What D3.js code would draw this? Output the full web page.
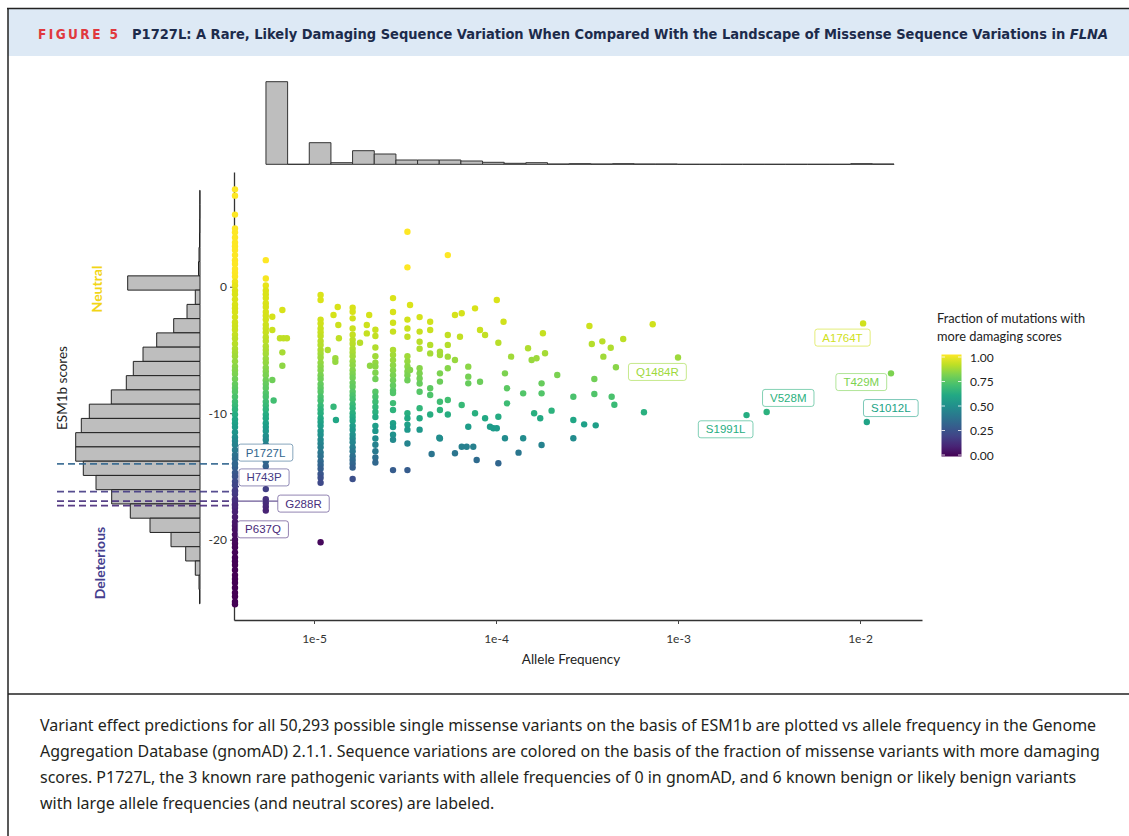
<!DOCTYPE html>
<html>
<head>
<meta charset="utf-8">
<script src="https://cdn.jsdelivr.net/npm/d3@7"></script>
<style>
  body { margin: 0; background: #fff; }
  svg { display: block; }
</style>
</head>
<body>
<svg id="chart" width="1129" height="836"></svg>
<script>
// ---------------- data ----------------
const alleleNumber = 184000;           // approx. gnomAD allele number, gives the AC columns

// ESM1b scores of variants absent from gnomAD (AF = 0, drawn on the left edge)
const zeroAfScores = [7.7, 7.2, 5.7, 4.6, 4.3, 3.9, 3.5, 3.2, 2.9, 2.5, 2.1, 1.8, 1.4, 1.1, 0.8, 0.4, 0.1,
  -0.3, -0.6, -1.0, -1.4, -1.7, -2.0, -2.4, -2.8, -3.1, -3.4, -3.8, -4.1, -4.5, -4.9, -5.2, -5.5, -5.9,
  -6.3, -6.6, -6.9, -7.3, -7.7, -8.0, -8.3, -8.7, -9.1, -9.4, -9.7, -10.1, -10.5, -10.8, -11.1, -11.5,
  -11.9, -12.2, -12.5, -12.9, -13.3, -13.6, -14.0, -14.3, -14.7, -15.0, -15.4, -15.7, -16.1, -16.4,
  -16.8, -17.2, -17.5, -17.8, -18.2, -18.6, -18.9, -19.2, -19.6, -20.0, -20.3, -20.6, -21.0, -21.4,
  -21.7, -22.0, -22.4, -22.8, -23.1, -23.4, -23.8, -24.2, -24.5, -24.9, -25.1];

// scores in the allele-count columns (AC / alleleNumber)
const ac1Scores = [2.1, 0.65, 0.1, -0.3, -0.6, -0.9, -1.3, -1.6, -2.0, -2.3, -2.6, -3.0, -3.3, -3.6, -4.0,
  -4.3, -4.7, -5.0, -5.3, -5.7, -6.0, -6.4, -6.7, -7.0, -7.4, -7.7, -8.0, -8.4, -8.7, -9.1, -9.4, -9.7,
  -10.1, -10.4, -10.8, -11.1, -11.4, -11.8, -12.1, -12.5, -12.8, -13.1, -13.5, -13.8, -14.2, -16.0,
  -16.8, -17.1, -17.4, -17.7];
const ac2Scores = [-0.66, -1.05, -2.6, -2.9, -3.3, -3.6, -3.9, -4.3, -4.6, -5.0, -5.3, -5.6, -6.0, -6.3,
  -6.6, -7.0, -7.3, -7.7, -8.0, -8.3, -8.7, -9.0, -9.4, -9.7, -10.0, -10.4, -10.7, -11.0, -11.4, -11.7,
  -12.1, -12.4, -12.7, -13.1, -13.4, -13.8, -14.1, -14.4, -14.8, -15.1, -15.5, -20.2];
const ac3Scores = [-1.66, -1.98, -2.5, -3.3, -3.8, -4.2, -4.5, -4.9, -5.2, -5.5, -5.9, -6.2, -6.6, -6.9,
  -7.2, -7.6, -7.9, -8.3, -8.6, -8.9, -9.3, -9.6, -10.0, -10.3, -10.6, -11.0, -11.3, -11.7, -12.0,
  -12.3, -12.7, -13.0, -13.4, -13.7, -14.0, -14.3, -15.2];
const ac4Scores = [-3.4, -3.9, -4.8, -5.5, -6.0, -6.3, -6.8, -7.3, -8.3, -8.7, -9.1, -9.5, -9.9, -10.3,
  -11.0, -11.4, -12.0, -12.5, -13.0, -13.5, -13.9];
const ac5Scores = [-0.9, -2.0, -2.85, -3.55, -5.0, -5.4, -5.8, -6.2, -6.6, -7.0, -7.4, -7.8, -8.2, -8.4,
  -9.2, -9.75, -10.8, -11.1, -11.7, -12.1, -14.5];
const ac6Scores = [4.35, 1.53, -2.6, -3.3, -3.95, -5.5, -5.9, -6.3, -6.7, -7.0, -7.4, -10.0, -10.4,
  -10.9, -11.3, -12.4, -14.5];
const ac7Scores = [-2.4, -3.55, -4.35, -4.9, -6.45, -6.85, -7.25, -7.65, -8.3, -9.6, -10.4, -11.3];
const ac8Scores = [-2.77, -3.42, -4.6, -5.27, -8.03, -8.56, -10.1];
const ac10Scores = [2.5, -3.82, -4.6, -5.53, -6.45, -8.96, -10.1];

// remaining variants: [allele frequency, ESM1b score]
const otherPoints = [
  [5.9e-6, -2.37], [5.9e-6, -3.42], [5.9e-6, -7.37], [6.0e-6, -9.0], [6.7e-6, -1.84], [6.5e-6, -4.08],
  [6.8e-6, -4.08], [7.1e-6, -4.08], [6.7e-6, -5.19], [6.7e-6, -6.25],
  [1.19e-5, -5.0], [1.28e-5, -2.24], [1.35e-5, -1.6], [1.36e-5, -3.03], [1.37e-5, -4.08], [1.31e-5, -5.66],
  [1.31e-5, -5.93], [1.28e-5, -9.49], [1.32e-5, -10.54],
  [1.79e-5, -4.43], [1.95e-5, -3.69], [2.01e-5, -2.24], [1.95e-5, -3.03], [2.03e-5, -6.25],
  [3.37e-5, -1.45], [3.37e-5, -6.58],
  [4.92e-5, -5.14], [4.92e-5, -5.4], [4.92e-5, -6.85], [4.92e-5, -7.5], [4.92e-5, -9.1], [4.92e-5, -9.75],
  [4.92e-5, -12.0],
  [5.95e-5, -2.24], [6.48e-5, -2.1], [6.34e-5, -3.95], [5.95e-5, -5.79], [7.04e-5, -6.32], [7.04e-5, -7.11],
  [7.04e-5, -7.64], [6.48e-5, -9.35], [7.67e-5, -1.71], [8.17e-5, -3.42], [8.71e-5, -3.82], [8.17e-5, -7.51],
  [7.67e-5, -10.0], [7.04e-5, -11.07], [8.71e-5, -10.4], [9.27e-5, -11.07], [9.67e-5, -11.19],
  [1.01e-4, -11.19], [1.03e-4, -10.28], [1.03e-4, -4.43], [1.01e-4, -1.05], [1.10e-4, -2.77],
  [1.12e-4, -6.85], [1.15e-4, -8.03], [1.15e-4, -9.22], [1.12e-4, -11.98], [1.21e-4, -5.53],
  [1.41e-4, -8.43], [1.41e-4, -11.98], [1.50e-4, -4.87], [1.57e-4, -5.79], [1.67e-4, -5.66],
  [1.78e-4, -7.64], [1.78e-4, -8.43], [1.86e-4, -5.26], [1.81e-4, -3.68], [1.62e-4, -10.0],
  [1.75e-4, -10.4], [2.02e-4, -9.8], [2.17e-4, -6.98], [2.66e-4, -8.7], [2.66e-4, -10.54],
  [2.66e-4, -11.98], [1.78e-4, -12.51], [1.33e-4, -13.12], [1.03e-4, -13.96], [7.83e-5, -13.7],
  [7.5e-5, -12.65], [6.9e-5, -12.65], [6.48e-5, -12.65], [5.95e-5, -13.17], [4.43e-5, -13.23],
  [4.88e-5, -11.94],
  [3.26e-4, -3.11], [7.26e-4, -2.97], [3.36e-4, -4.53], [3.84e-4, -4.32], [4.27e-4, -4.82],
  [5.0e-4, -4.13], [3.89e-4, -5.53], [4.56e-4, -6.37], [3.47e-4, -7.3], [3.47e-4, -8.48],
  [4.32e-4, -8.7], [4.47e-4, -9.33], [6.5e-4, -9.93], [3.05e-4, -10.88], [3.53e-4, -10.96]
];

// labeled variants
const labeledNames = ["A1764T", "T429M", "S1012L", "V528M", "S1991L", "Q1484R", "P1727L", "H743P", "G288R", "P637Q"];
const labeledAf = [1.04e-2, 1.48e-2, 1.09e-2, 3.07e-3, 2.38e-3, 1.0e-3, 0, 0, 0, 0];
const labeledScores = [-2.9, -6.85, -10.7, -9.9, -10.15, -5.6, -14.0, -16.2, -16.95, -17.3];

// marginal histograms
const afBinStartLog = -5.264, afBinWidthLog = 0.119;     // log10 allele frequency bins
const afHistCounts = [826, 0, 216, 16, 136, 103, 43, 43, 43, 33, 20, 10, 16, 3, 6,
  3, 6, 3, 3, 0, 0, 0, 0, 0, 0, 0, 0, 6, 3];
const scoreBinTop = 7.62, scoreBinWidth = 1.127;          // ESM1b score bins, top down
const scoreHistCounts = [2, 2, 3, 5, 10, 15, 723, 47, 130, 263, 433, 570, 667, 737, 887, 1107,
  1187, 1243, 1243, 1167, 1040, 883, 697, 500, 290, 143, 47, 10, 5];

// ticks
const xTicks = [1e-5, 1e-4, 1e-3, 1e-2];
const xTickLabels = ["1e-5", "1e-4", "1e-3", "1e-2"];
const yTicks = [0, -10, -20];
const legendTicks = [0, 0.25, 0.5, 0.75, 1];

const captionLines = [
  "Variant effect predictions for all 50,293 possible single missense variants on the basis of ESM1b are plotted vs allele frequency in the Genome",
  "Aggregation Database (gnomAD) 2.1.1. Sequence variations are colored on the basis of the fraction of missense variants with more damaging",
  "scores. P1727L, the 3 known rare pathogenic variants with allele frequencies of 0 in gnomAD, and 6 known benign or likely benign variants",
  "with large allele frequencies (and neutral scores) are labeled."
];

// ---------------- layout ----------------
// label box offsets from their points (ggrepel result), px
const labelOffsets = {
  A1764T: [-20.6, 14.2], Q1484R: [-20.6, 14.4], V528M: [21.6, -14], T429M: [-29.7, 8.7],
  S1012L: [24, -14], S1991L: [-20.9, 14.2], P1727L: [30.5, -11.2], H743P: [29, -14.2],
  G288R: [68.5, 2.5], P637Q: [28, 23.8]
};
const withSegment = ["H743P", "G288R"];
const plotFont = "Lato, 'Open Sans', sans-serif";

const svg = d3.select("#chart");
const W = 1129;

// ---------------- frame and header ----------------
svg.append("rect").attr("x", 8).attr("y", 9).attr("width", W - 8).attr("height", 47).attr("fill", "#dde9f5");
svg.append("line").attr("x1", 7).attr("x2", W).attr("y1", 8.5).attr("y2", 8.5).attr("stroke", "#222").attr("stroke-width", 1.5);
svg.append("line").attr("x1", 8).attr("x2", 8).attr("y1", 8).attr("y2", 836).attr("stroke", "#222").attr("stroke-width", 1.5);
svg.append("line").attr("x1", 8).attr("x2", W).attr("y1", 694).attr("y2", 694).attr("stroke", "#222").attr("stroke-width", 1.5);

const headFont = "'DejaVu Sans Condensed', 'DejaVu Sans', sans-serif";
svg.append("text")
  .attr("x", 38).attr("y", 38.5)
  .attr("font-family", headFont).attr("font-stretch", "condensed").attr("font-weight", "bold")
  .attr("font-size", 13.5).attr("fill", "#e0383d")
  .attr("textLength", 80).attr("lengthAdjust", "spacing")
  .text("FIGURE 5");
const title = svg.append("text")
  .attr("x", 132).attr("y", 38.5)
  .attr("font-family", headFont).attr("font-stretch", "condensed").attr("font-weight", "bold")
  .attr("font-size", 14).attr("fill", "#1c2b4b")
  .attr("textLength", 976).attr("lengthAdjust", "spacingAndGlyphs");
title.append("tspan").text("P1727L: A Rare, Likely Damaging Sequence Variation When Compared With the Landscape of Missense Sequence Variations in ");
title.append("tspan").attr("font-style", "italic").text("FLNA");

// ---------------- scales ----------------
const x = d3.scaleLog().domain([3.634e-6, 0.02191]).range([234, 922]);
const y = d3.scaleLinear().domain([-26.35, 9.07]).range([620, 172]);

const scoreTotal = d3.sum(scoreHistCounts);
// fraction of all variants with a lower (more damaging) score, from the histogram
function fractionBelow(s) {
  let acc = 0;
  scoreHistCounts.forEach((c, i) => {
    const hi = scoreBinTop - i * scoreBinWidth, lo = hi - scoreBinWidth;
    if (s >= hi) acc += c;
    else if (s > lo) acc += c * (s - lo) / scoreBinWidth;
  });
  return Math.min(1, acc / scoreTotal);
}
const colorOf = s => d3.interpolateViridis(fractionBelow(s));
const xPos = af => af > 0 ? x(af) : x.range()[0] + 1;

// ---------------- top marginal histogram ----------------
const histTop = d3.scaleLinear().domain([0, d3.max(afHistCounts)]).range([164.3, 81.7]);
svg.append("g").selectAll("path").data(afHistCounts).join("path")
  .attr("d", (c, i) => {
    const x0 = x(Math.pow(10, afBinStartLog + i * afBinWidthLog));
    const x1 = x(Math.pow(10, afBinStartLog + (i + 1) * afBinWidthLog));
    return `M${x0},${histTop(0)}H${x1}V${histTop(c)}H${x0}Z`;
  })
  .attr("fill", "#bebebe").attr("stroke", "#333").attr("stroke-width", 1);

// ---------------- left marginal histogram ----------------
const histLeft = d3.scaleLinear().domain([0, d3.max(scoreHistCounts)]).range([200, 75.7]);
svg.append("g").selectAll("path").data(scoreHistCounts).join("path")
  .attr("d", (c, i) => {
    const y0 = y(scoreBinTop - i * scoreBinWidth);
    const y1 = y(scoreBinTop - (i + 1) * scoreBinWidth);
    return `M${histLeft(0)},${y0}V${y1}H${histLeft(c)}V${y0}Z`;
  })
  .attr("fill", "#bebebe").attr("stroke", "#222").attr("stroke-width", 1);

// dashed reference lines for the AF = 0 labeled variants
const labeled = labeledNames.map((n, i) => ({ name: n, af: labeledAf[i], score: labeledScores[i] }));
svg.append("g").selectAll("line").data(labeled.filter(d => d.af === 0)).join("line")
  .attr("x1", 57).attr("x2", x.range()[0])
  .attr("y1", d => y(d.score)).attr("y2", d => y(d.score))
  .attr("stroke", d => colorOf(d.score)).attr("stroke-width", 1.8)
  .attr("stroke-dasharray", "7,4").attr("opacity", 0.9);

// ---------------- axes ----------------
const xAxis = svg.append("g").attr("transform", "translate(0,620)")
  .call(d3.axisBottom(x).tickValues(xTicks).tickFormat((d, i) => xTickLabels[i]).tickSize(4).tickSizeOuter(0).tickPadding(10));
const yAxis = svg.append("g").attr("transform", "translate(234,0)")
  .call(d3.axisLeft(y).tickValues(yTicks).tickFormat(d => String(d)).tickSize(4).tickSizeOuter(0).tickPadding(3));
[xAxis, yAxis].forEach(g => {
  g.select(".domain").attr("stroke", "#333").attr("stroke-width", 1.3);
  g.selectAll(".tick line").attr("stroke", "#444");
  g.selectAll(".tick text").attr("font-family", plotFont).attr("font-size", 12).attr("fill", "#333");
});

svg.append("text").attr("x", 571).attr("y", 664).attr("text-anchor", "middle")
  .attr("font-family", plotFont).attr("font-size", 13.5).attr("fill", "#222").text("Allele Frequency");
svg.append("text").attr("transform", "translate(67,388) rotate(-90)").attr("text-anchor", "middle")
  .attr("font-family", plotFont).attr("font-size", 13.5).attr("fill", "#222").text("ESM1b scores");
svg.append("text").attr("transform", "translate(102,289) rotate(-90)").attr("text-anchor", "middle")
  .attr("font-family", plotFont).attr("font-weight", "bold").attr("font-size", 14).attr("fill", "#f2d516").text("Neutral");
svg.append("text").attr("transform", "translate(105,563) rotate(-90)").attr("text-anchor", "middle")
  .attr("font-family", plotFont).attr("font-weight", "bold").attr("font-size", 14).attr("fill", "#463f8f").text("Deleterious");

// ---------------- points ----------------
const columns = [[1, ac1Scores], [2, ac2Scores], [3, ac3Scores], [4, ac4Scores], [5, ac5Scores],
  [6, ac6Scores], [7, ac7Scores], [8, ac8Scores], [10, ac10Scores]];
let points = zeroAfScores.map(s => ({ af: 0, score: s }));
columns.forEach(([ac, scores]) => scores.forEach(s => points.push({ af: ac / alleleNumber, score: s })));
otherPoints.forEach(([af, s]) => points.push({ af: af, score: s }));
labeled.forEach(d => points.push({ af: d.af, score: d.score }));

svg.append("g").selectAll("circle").data(points).join("circle")
  .attr("cx", d => xPos(d.af)).attr("cy", d => y(d.score)).attr("r", 3.2)
  .attr("fill", d => colorOf(d.score));

// ---------------- labels ----------------
const labelG = svg.append("g");
labeled.forEach(d => {
  const px = xPos(d.af), py = y(d.score);
  const [dx, dy] = labelOffsets[d.name];
  const cx = px + dx, cy = py + dy;
  const col = colorOf(d.score);
  const g = labelG.append("g");
  const seg = g.append("line");
  const box = g.append("rect");
  const t = g.append("text").attr("x", cx).attr("y", cy).attr("text-anchor", "middle")
    .attr("dominant-baseline", "central")
    .attr("font-family", "'Liberation Sans', Arial, sans-serif").attr("font-size", 11.5)
    .attr("fill", col).text(d.name);
  const w = t.node().getComputedTextLength() + 15, h = 17;
  box.attr("x", cx - w / 2).attr("y", cy - h / 2).attr("width", w).attr("height", h)
    .attr("rx", 2.5).attr("fill", "#fff").attr("stroke", col).attr("stroke-opacity", 0.65).attr("stroke-width", 0.9);
  if (withSegment.includes(d.name)) {
    const ex = Math.max(cx - w / 2, Math.min(cx + w / 2, px));
    const ey = Math.max(cy - h / 2, Math.min(cy + h / 2, py));
    seg.attr("x1", px).attr("y1", py).attr("x2", ex).attr("y2", ey).attr("stroke", col).attr("stroke-width", 1);
  }
});

// ---------------- colour legend ----------------
const defs = svg.append("defs");
const grad = defs.append("linearGradient").attr("id", "viridis").attr("x1", 0).attr("x2", 0).attr("y1", 1).attr("y2", 0);
d3.range(0, 1.0001, 0.1).forEach(t => grad.append("stop").attr("offset", t).attr("stop-color", d3.interpolateViridis(t)));
const legY = d3.scaleLinear().domain([0, 1]).range([455, 357]);
svg.append("rect").attr("x", 941.5).attr("y", 354.5).attr("width", 20).attr("height", 102).attr("fill", "url(#viridis)");
const legTicks = svg.append("g");
legendTicks.forEach(v => {
  legTicks.append("line").attr("x1", 941.5).attr("x2", 945).attr("y1", legY(v)).attr("y2", legY(v)).attr("stroke", "#fff").attr("stroke-width", 0.8);
  legTicks.append("line").attr("x1", 958).attr("x2", 961.5).attr("y1", legY(v)).attr("y2", legY(v)).attr("stroke", "#fff").attr("stroke-width", 0.8);
  legTicks.append("text").attr("x", 970).attr("y", legY(v)).attr("dominant-baseline", "central")
    .attr("font-family", plotFont).attr("font-size", 12).attr("fill", "#222").text(d3.format(".2f")(v));
});
svg.append("text").attr("x", 937).attr("y", 323).attr("font-family", plotFont).attr("font-size", 12.8).attr("fill", "#222")
  .text("Fraction of mutations with");
svg.append("text").attr("x", 937).attr("y", 340.5).attr("font-family", plotFont).attr("font-size", 12.8).attr("fill", "#222")
  .text("more damaging scores");

// ---------------- caption ----------------
const cap = svg.append("g").attr("font-family", "'Noto Sans', 'Open Sans', sans-serif").attr("fill", "#231f20");
const capTexts = captionLines.map((line, i) =>
  cap.append("text").attr("x", 40).attr("y", 731 + i * 26).attr("font-size", 15).text(line));
const firstLen = capTexts[0].node().getComputedTextLength();
const capSize = 15 * 1057 / firstLen;
capTexts.forEach(t => t.attr("font-size", capSize));
</script>
</body>
</html>
